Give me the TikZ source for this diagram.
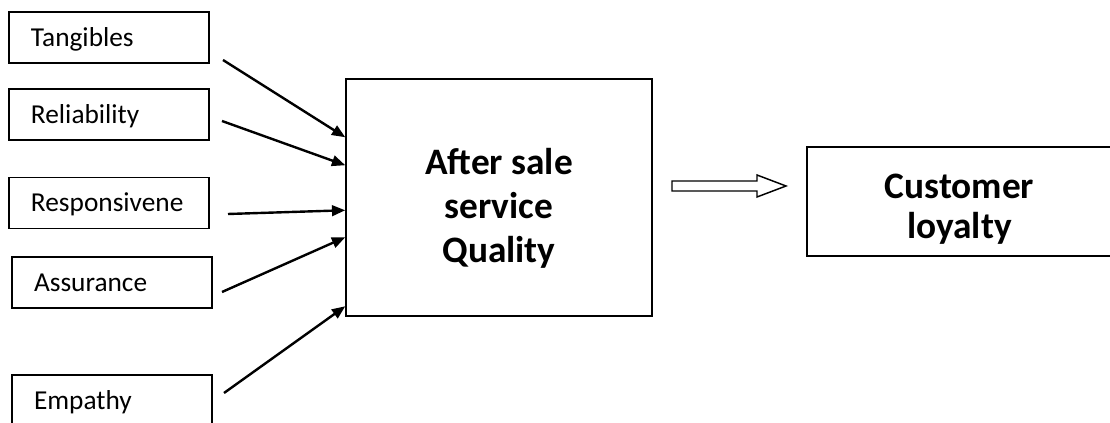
\documentclass[tikz,border=0pt]{standalone}
\usepackage{fontspec}
\setmainfont{Carlito}
\usetikzlibrary{arrows.meta,calc}
\begin{document}
\begin{tikzpicture}[x=0.75pt,y=-0.75pt,
		dim/.style={draw,line width=1.1pt,minimum width=150pt,minimum height=38.25pt,inner xsep=16.5pt,text width=117pt,align=left,text height=13.2pt,text depth=0pt,font=\fontsize{20.5}{24}\selectfont},
		big/.style={draw,line width=1.1pt,align=center,text depth=0pt,font=\fontsize{28}{33}\selectfont\bfseries},
		link/.style={line width=1.8pt,-{Triangle[length=10pt,width=8pt]}}]
	\useasboundingbox (0,0) rectangle (1110,423);
	% dimensions of service quality
	\node[dim] (tang) at (109,37.5) {Tangibles};
	\node[dim] (rel) at (109,114.5) {Reliability};
	\node[dim] (resp) at (109,203) {Responsivene};
	\node[dim] (ass) at (112,282.5) {Assurance};
	\node[dim] (emp) at (112,400.5) {Empathy};
	\node[big,minimum width=229.5pt,minimum height=177.75pt,text height=97pt] (asq) at (499,197.5) {After sale\\service\\Quality};
	\node[big,minimum width=228.75pt,minimum height=81.75pt,text height=54.8pt,font=\fontsize{28}{30}\selectfont\bfseries] (cl) at (959.5,201.5) {Customer\\loyalty};
	\coordinate (s1) at (223,60);
	\coordinate (s2) at (222,121);
	\coordinate (s3) at (228,214);
	\coordinate (s4) at (222,292);
	\coordinate (s5) at (224,393);
	\foreach \s/\d in {s1/59,s2/87,s3/132,s4/159,s5/228}
		\draw[link] (\s) -- ($(asq.north west)+(0,\d)$);
	% hollow arrow
	\coordinate (hs) at (672,181);
	\draw[line width=1.1pt] (hs) -- ++(85,0) -- ++(0,-6) -- ++(29,11) -- ++(-29,11) -- ++(0,-6) -- ++(-85,0) -- cycle;
\end{tikzpicture}
\end{document}
